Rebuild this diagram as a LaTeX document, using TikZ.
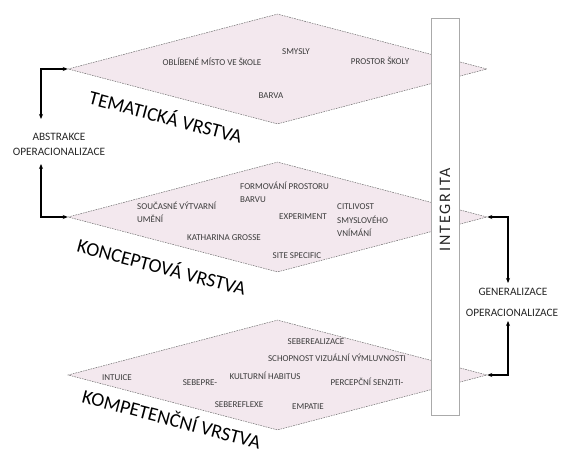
\documentclass[tikz,border=0pt]{standalone}
\usepackage{fontspec}
\setmainfont{Carlito}
\usetikzlibrary{shapes.geometric,arrows.meta}
\definecolor{layerfill}{RGB}{243,232,238}
\definecolor{layeredge}{RGB}{110,110,110}
\definecolor{itemtext}{RGB}{60,60,60}
\definecolor{baredge}{RGB}{170,170,170}
\begin{document}
\begin{tikzpicture}[x=1pt,y=-1pt,
  layer/.style={diamond, draw=layeredge, dash pattern=on 1.6pt off 1pt,
    line width=0.5pt, fill=layerfill, minimum width=419pt,
    minimum height=110pt, inner sep=0pt},
  item/.style={font=\fontsize{9}{13.5}\selectfont, text=itemtext, inner sep=0pt},
  layername/.style={font=\fontsize{19.5}{22}\selectfont, rotate=-14.7, inner sep=0pt},
  sidelabel/.style={font=\fontsize{11.3}{15}\selectfont, align=center, inner sep=0pt, text=black!85},
  link/.style={line width=1.3pt, {Stealth[length=5pt,width=4pt]}-{Stealth[length=5pt,width=4pt]}},
  bar/.style={draw=baredge, fill=white, line width=0.6pt, minimum width=28pt,
    minimum height=397pt, inner sep=0pt}
]
\useasboundingbox (0,0) rectangle (564,454);

% the three layers
\node[layer] (tem) at (277.5,69) {};
\node[layer] (kon) at (277.5,217) {};
\node[layer] (kom) at (277.5,375) {};

% thematic layer
\node[item] (t1) at (212,62) {OBLÍBENÉ MÍSTO VE ŠKOLE};
\node[item] (t2) at (296,52) {SMYSLY};
\node[item] (t3) at (380,61) {PROSTOR ŠKOLY};
\node[item] (t4) at (271,96) {BARVA};
\node[layername] (temname) at (166,116) {TEMATICKÁ VRSTVA};

% conceptual layer
\node[item, align=left, anchor=west] (k1) at (240,192.5) {FORMOVÁNÍ PROSTORU\\BARVU};
\node[item, align=left, anchor=west] (k2) at (137,212.5) {SOUČASNÉ VÝTVARNÍ\\UMĚNÍ};
\node[item] (k3) at (303,217) {EXPERIMENT};
\node[item, align=left, anchor=west] (k4) at (337,220.5) {CITLIVOST\\SMYSLOVÉHO\\VNÍMÁNÍ};
\node[item] (k5) at (224,238) {KATHARINA GROSSE};
\node[item] (k6) at (297,256) {SITE SPECIFIC};
\node[layername] (konname) at (162,266) {KONCEPTOVÁ VRSTVA};

% competence layer
\node[item] (c1) at (316,342) {SEBEREALIZACE};
\node[item] (c2) at (337,358) {SCHOPNOST VIZUÁLNÍ VÝMLUVNOSTI};
\node[item] (c3) at (265,376) {KULTURNÍ HABITUS};
\node[item] (c4) at (117,378) {INTUICE};
\node[item] (c5) at (200,383) {SEBEPRE-};
\node[item] (c6) at (367,382) {PERCEPČNÍ SENZITI-};
\node[item] (c7) at (239,405) {SEBEREFLEXE};
\node[item] (c8) at (308,407) {EMPATIE};
\node[layername] (komname) at (172,418) {KOMPETENČNÍ VRSTVA};

% integrity bar across all layers
\node[bar] (bar) at (445,216.5) {};
\node[font=\fontsize{16}{18}\selectfont\addfontfeature{LetterSpace=12}, rotate=90, inner sep=0pt, text=black!85] (integ) at (445,210) {INTEGRITA};

% side labels
\node[sidelabel] (abs) at (59,144.5) {ABSTRAKCE\\OPERACIONALIZACE};
\node[sidelabel] (gen) at (513,292) {GENERALIZACE};
\node[sidelabel] (ope) at (512,313) {OPERACIONALIZACE};

% connectors
\coordinate (a1) at (41,119);
\coordinate (a2) at (41,164);
\coordinate (g1) at (508,283);
\coordinate (g2) at (508,321);
\draw[link] (a1) |- (tem.west);
\draw[link] (a2) |- (kon.west);
\draw[link] (g1) |- (kon.east);
\draw[link] (g2) |- (kom.east);
\end{tikzpicture}
\end{document}
